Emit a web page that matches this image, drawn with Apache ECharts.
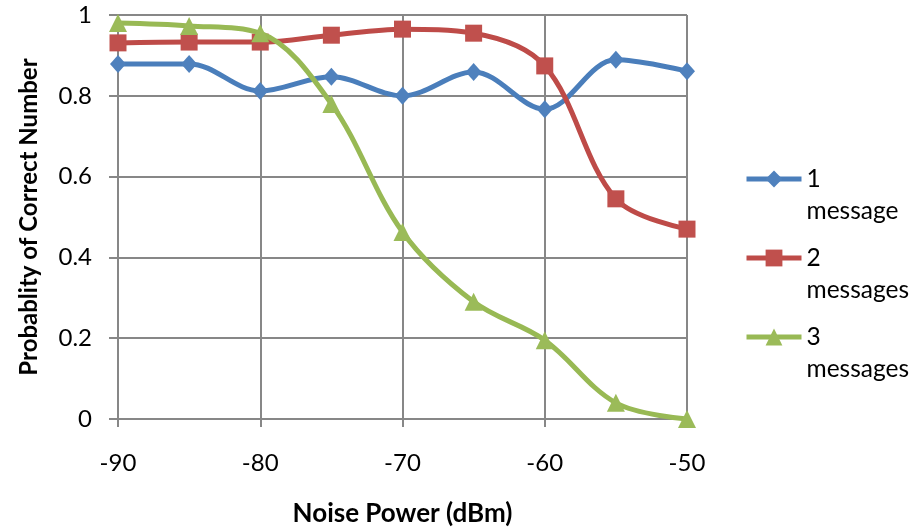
<!DOCTYPE html>
<html>
<head>
<meta charset="utf-8">
<script src="https://cdn.jsdelivr.net/npm/echarts@6/dist/echarts.min.js"></script>
<style>
html,body{margin:0;padding:0;background:#fff;}
#chart{width:915px;height:527px;}
</style>
</head>
<body>
<div id="chart"></div>
<script>
const noisePower = [-90, -85, -80, -75, -70, -65, -60, -55, -50];
const oneMessage = [0.879, 0.879, 0.812, 0.847, 0.800, 0.859, 0.767, 0.889, 0.861];
const twoMessages = [0.931, 0.933, 0.933, 0.950, 0.965, 0.955, 0.874, 0.545, 0.470];
const threeMessages = [0.980, 0.973, 0.955, 0.780, 0.463, 0.290, 0.195, 0.040, 0.000];
const seriesNames = ['1\nmessage', '2\nmessages', '3\nmessages'];
const xTitle = 'Noise Power (dBm)';
const yTitle = 'Probablity of Correct Number';

const FONT = 'Lato';
const GRID_COLOR = '#878787';
const lineColors = ['#4A7EBB', '#BE4B48', '#98B954'];
const markColors = ['#4F81BD', '#C0504D', '#9BBB59'];
const symbols = ['diamond', 'rect', 'triangle'];
const symbolSizes = [[16, 18], 17, 18];
const allData = [oneMessage, twoMessages, threeMessages];

function pairs(vals) { return noisePower.map((x, i) => [x, vals[i]]); }

const series = allData.map((vals, k) => ({
  name: seriesNames[k],
  type: 'line',
  data: pairs(vals),
  smooth: 0.35,
  symbol: symbols[k],
  symbolSize: symbolSizes[k],
  showAllSymbol: true,
  lineStyle: { color: lineColors[k], width: 5 },
  itemStyle: { color: markColors[k] },
  emphasis: { disabled: true },
  z: 2 + k
}));

const legendTops = [179, 258, 337];
const legends = seriesNames.map((n, k) => ({
  data: [n],
  orient: 'vertical',
  left: 744,
  top: legendTops[k] - 48,
  padding: 0,
  itemWidth: 55,
  itemHeight: 21,
  itemGap: 0,
  selectedMode: false,
  formatter: name => ' \n' + name,
  lineStyle: { width: 5 },
  textStyle: { fontFamily: FONT, fontSize: 24.5, color: '#000', lineHeight: 32 }
}));

const chart = echarts.init(document.getElementById('chart'));
chart.setOption({
  animation: false,
  backgroundColor: '#fff',
  grid: { left: 118, right: 228, top: 15, bottom: 108, containLabel: false, outerBoundsMode: 'none' },
  legend: legends,
  xAxis: {
    type: 'value', min: -90, max: -50, interval: 10,
    name: xTitle, nameLocation: 'middle', nameGap: 82,
    nameTextStyle: { fontFamily: FONT, fontWeight: 'bold', fontSize: 26, color: '#000', lineHeight: 26 },
    axisLine: { show: true, lineStyle: { color: GRID_COLOR, width: 2 } },
    axisTick: { show: true, length: 8, lineStyle: { color: GRID_COLOR, width: 2 } },
    axisLabel: { fontFamily: FONT, fontSize: 24, color: '#000', margin: 32 },
    splitLine: { show: true, lineStyle: { color: GRID_COLOR, width: 2 } }
  },
  yAxis: {
    type: 'value', min: 0, max: 1, interval: 0.2,
    name: yTitle, nameLocation: 'middle', nameGap: 77,
    nameTextStyle: { fontFamily: FONT, fontWeight: 'bold', fontSize: 24, color: '#000' },
    axisLine: { show: true, lineStyle: { color: GRID_COLOR, width: 2 } },
    axisTick: { show: true, length: 9, lineStyle: { color: GRID_COLOR, width: 2 } },
    axisLabel: { fontFamily: FONT, fontSize: 24, color: '#000', margin: 26 },
    splitLine: { show: true, lineStyle: { color: GRID_COLOR, width: 2 } }
  },
  series: series
});
</script>
</body>
</html>
